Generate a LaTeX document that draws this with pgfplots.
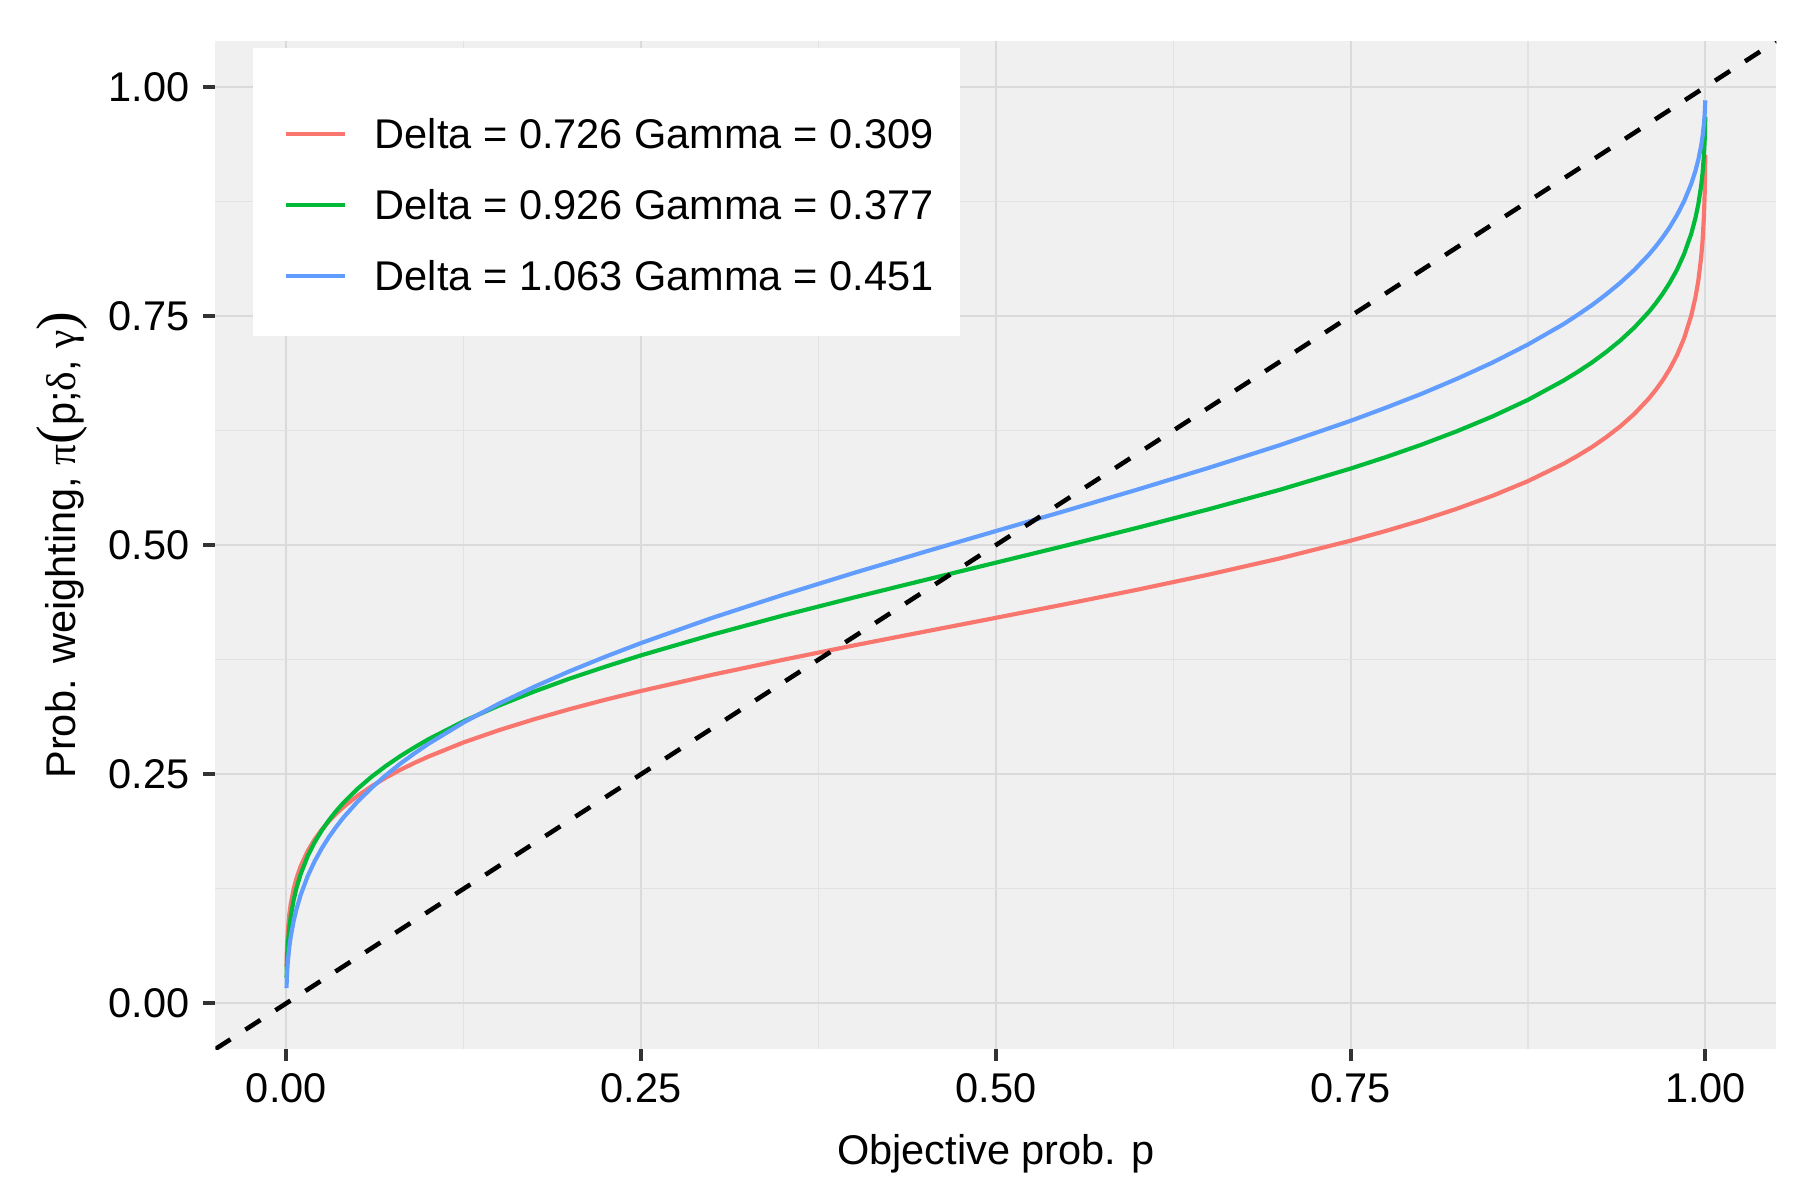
\documentclass[border=0pt]{standalone}
\usepackage{fontspec}
\setmainfont{Liberation Sans}
\newfontfamily\grk{Liberation Serif}
\usepackage{pgfplots}
\pgfplotsset{compat=1.18}
\definecolor{cred}{HTML}{F8766D}
\definecolor{cgreen}{HTML}{00BA38}
\definecolor{cblue}{HTML}{619CFF}
\definecolor{panelbg}{HTML}{F0F0F0}
\definecolor{gridmaj}{HTML}{DADADA}
\definecolor{gridmin}{HTML}{E2E2E2}
\newcommand{\tf}{\fontsize{10}{12}\selectfont}
\begin{document}
\begin{tikzpicture}
\useasboundingbox (-51.9pt,-36.4pt) rectangle (381.7pt,252.7pt);
\begin{axis}[
  at={(0pt,0pt)}, anchor=south west,
  scale only axis, width=376pt, height=242.8pt,
  xmin=-0.05, xmax=1.05, ymin=-0.05, ymax=1.05,
  axis background/.style={fill=panelbg},
  axis line style={draw=none},
  xtick={0,0.25,0.5,0.75,1}, ytick={0,0.25,0.5,0.75,1},
  xticklabels={0.00,0.25,0.50,0.75,1.00},
  yticklabels={0.00,0.25,0.50,0.75,1.00},
  minor xtick={0.125,0.375,0.625,0.875},
  minor ytick={0.125,0.375,0.625,0.875},
  grid=both,
  major grid style={color=gridmaj, line width=0.5pt},
  minor grid style={color=gridmin, line width=0.3pt},
  xtick pos=bottom, ytick pos=left,
  tick align=outside,
  major tick length=2.9pt, minor tick length=0pt,
  tick style={color=black!80, line width=1pt},
  tick label style={font=\tf, text=black},
  xticklabel style={inner sep=0pt, yshift=-2.9pt},
  yticklabel style={inner sep=0pt, xshift=-3.1pt},
  xlabel={Objective prob. p},
  ylabel={Prob. weighting, {\grk π}{\grk\fontsize{13.5}{13}\selectfont(}p;{\grk δ}, {\grk γ}{\grk\fontsize{13.5}{13}\selectfont)}},
  label style={font=\tf},
  xlabel style={at={(axis description cs:0.5,0)}, anchor=base, yshift=-27.9pt, inner sep=0pt},
  ylabel style={at={(axis description cs:-0.0894,0.5)}, anchor=base, inner sep=0pt},
  legend cell align=left,
  legend image code/.code={\path (0pt,0pt); \draw[#1] (1.2pt,0pt) -- (15.2pt,0pt);},
  legend style={
    at={(axis description cs:0,1)}, anchor=north west,
    xshift=8.8pt, yshift=-1.45pt,
    fill=white, draw=none,
    inner xsep=6.4pt, inner ysep=8.6pt,
    column sep=6.8pt, row sep=5.1pt,
    font=\tf,
    nodes={inner sep=0pt, text height=9.6pt, text depth=2.4pt},
  },
]
\addlegendimage{empty legend}
\addlegendentry[text height=0pt, text depth=0pt]{}
\addplot[cred, line width=1pt] coordinates {
(0.0001,0.0405) (0.0002,0.0496) (0.0003,0.0559) (0.0005,0.0649) (0.001,0.0792)
(0.002,0.0962) (0.003,0.1078) (0.005,0.1239) (0.007,0.1357) (0.01,0.1493)
(0.015,0.1661) (0.02,0.1790) (0.025,0.1896) (0.03,0.1987) (0.035,0.2067)
(0.04,0.2138) (0.05,0.2262) (0.06,0.2367) (0.07,0.2461) (0.08,0.2545)
(0.09,0.2621) (0.10,0.2691) (0.125,0.2847) (0.15,0.2981) (0.175,0.3101)
(0.20,0.3211) (0.225,0.3313) (0.25,0.3408) (0.30,0.3584) (0.35,0.3748)
(0.40,0.3905) (0.45,0.4056) (0.50,0.4206) (0.55,0.4358) (0.60,0.4514)
(0.65,0.4678) (0.70,0.4854) (0.75,0.5048) (0.775,0.5155) (0.80,0.5270)
(0.825,0.5397) (0.85,0.5538) (0.875,0.5698) (0.90,0.5887) (0.91,0.5975)
(0.92,0.6069) (0.93,0.6176) (0.94,0.6295) (0.95,0.6433) (0.96,0.6597)
(0.965,0.6693) (0.97,0.6800) (0.975,0.6925) (0.98,0.7073) (0.985,0.7257)
(0.99,0.7503) (0.993,0.7705) (0.995,0.7884) (0.997,0.8137) (0.998,0.8319)
(0.999,0.8598) (0.9995,0.8837) (0.9997,0.8990) (0.9998,0.9098) (0.9999,0.9259)
};
\addlegendentry{Delta = 0.726 Gamma = 0.309}
\addplot[cgreen, line width=1pt] coordinates {
(0.0001,0.0280) (0.0002,0.0360) (0.0003,0.0417) (0.0005,0.0501) (0.001,0.0641)
(0.002,0.0817) (0.003,0.0940) (0.005,0.1118) (0.007,0.1251) (0.01,0.1407)
(0.015,0.1605) (0.02,0.1759) (0.025,0.1887) (0.03,0.1998) (0.035,0.2096)
(0.04,0.2184) (0.05,0.2338) (0.06,0.2471) (0.07,0.2588) (0.08,0.2694)
(0.09,0.2790) (0.10,0.2880) (0.125,0.3078) (0.15,0.3250) (0.175,0.3404)
(0.20,0.3545) (0.225,0.3674) (0.25,0.3797) (0.30,0.4022) (0.35,0.4231)
(0.40,0.4428) (0.45,0.4619) (0.50,0.4808) (0.55,0.4997) (0.60,0.5190)
(0.65,0.5391) (0.70,0.5603) (0.75,0.5835) (0.775,0.5961) (0.80,0.6096)
(0.825,0.6243) (0.85,0.6404) (0.875,0.6585) (0.90,0.6795) (0.91,0.6890)
(0.92,0.6992) (0.93,0.7106) (0.94,0.7232) (0.95,0.7375) (0.96,0.7542)
(0.965,0.7638) (0.97,0.7745) (0.975,0.7866) (0.98,0.8006) (0.985,0.8177)
(0.99,0.8396) (0.993,0.8571) (0.995,0.8720) (0.997,0.8921) (0.998,0.9060)
(0.999,0.9260) (0.9995,0.9421) (0.9997,0.9517) (0.9998,0.9583) (0.9999,0.9676)
};
\addlegendentry{Delta = 0.926 Gamma = 0.377}
\addplot[cblue, line width=1pt] coordinates {
(0.0001,0.0164) (0.0002,0.0223) (0.0003,0.0267) (0.0005,0.0334) (0.001,0.0450)
(0.002,0.0606) (0.003,0.0719) (0.005,0.0890) (0.007,0.1021) (0.01,0.1180)
(0.015,0.1387) (0.02,0.1552) (0.025,0.1692) (0.03,0.1815) (0.035,0.1923)
(0.04,0.2023) (0.05,0.2198) (0.06,0.2350) (0.07,0.2487) (0.08,0.2611)
(0.09,0.2724) (0.10,0.2830) (0.125,0.3065) (0.15,0.3271) (0.175,0.3456)
(0.20,0.3626) (0.225,0.3783) (0.25,0.3931) (0.30,0.4205) (0.35,0.4457)
(0.40,0.4696) (0.45,0.4927) (0.50,0.5153) (0.55,0.5378) (0.60,0.5607)
(0.65,0.5843) (0.70,0.6090) (0.75,0.6356) (0.775,0.6500) (0.80,0.6651)
(0.825,0.6815) (0.85,0.6992) (0.875,0.7189) (0.90,0.7411) (0.91,0.7512)
(0.92,0.7618) (0.93,0.7735) (0.94,0.7862) (0.95,0.8004) (0.96,0.8167)
(0.965,0.8259) (0.97,0.8360) (0.975,0.8473) (0.98,0.8602) (0.985,0.8753)
(0.99,0.8941) (0.993,0.9085) (0.995,0.9204) (0.997,0.9358) (0.998,0.9460)
(0.999,0.9599) (0.9995,0.9704) (0.9997,0.9763) (0.9998,0.9802) (0.9999,0.9854)
};
\addlegendentry{Delta = 1.063 Gamma = 0.451}
\addplot[black, line width=1.1pt, dash pattern=on 4.3pt off 4.3pt, forget plot] coordinates {(-0.05,-0.05) (1.05,1.05)};
\end{axis}
\end{tikzpicture}
\end{document}
